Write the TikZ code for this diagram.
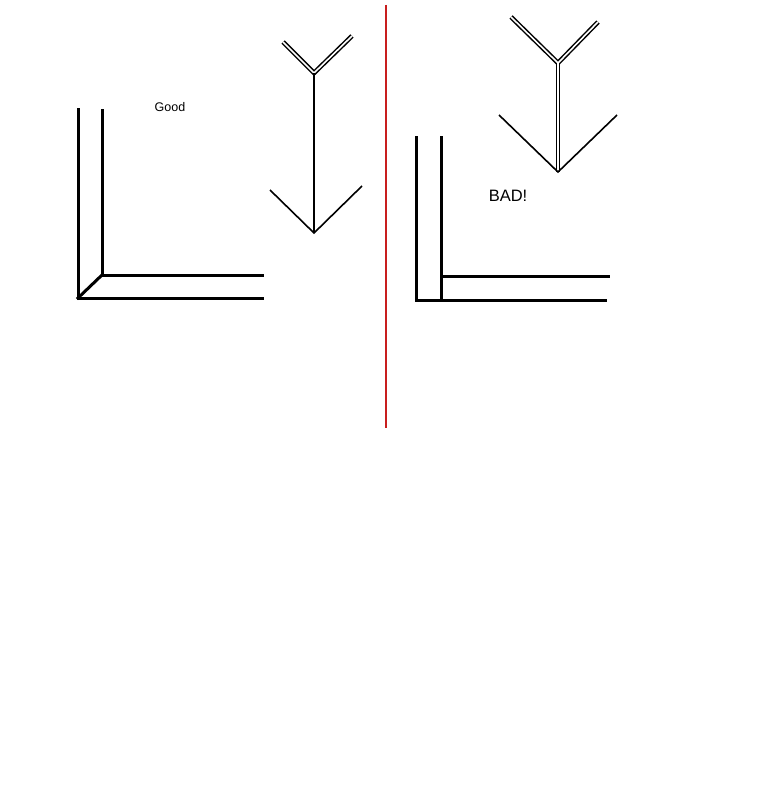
\documentclass[tikz,border=0pt]{standalone}
\usepackage{fontspec}
\setmainfont{Liberation Sans}
\begin{document}
\begin{tikzpicture}[x=1pt,y=-1pt,
  thick L/.style={line width=3pt, line cap=rect},
  single/.style={line width=1.6pt},
  dbl/.style={double, double distance=1.6pt, line width=1.5pt, line join=miter},
  divider/.style={line width=1.6pt, draw={rgb,255:red,200;green,30;blue,30}},
  lbl/.style={inner sep=0pt, font=\fontsize{12.5}{14}\selectfont}]
\useasboundingbox (0,0) rectangle (765,800);
\fill[white] (0,0) rectangle (765,800);

% ---- left "Good" side ----
\coordinate (gOT) at (78,109);
\coordinate (gOC) at (78,298);
\coordinate (gOR) at (262,298);
\coordinate (gIT) at (102,110);
\coordinate (gIC) at (102,275);
\coordinate (gIR) at (262,275);
\draw[thick L] (gOT) -- (gOC) -- (gOR);
\draw[thick L] (gIT) -- (gIC) -- (gIR);
\draw[thick L] (gOC) -- (gIC);

\coordinate (gVtop) at (314,73);
\coordinate (gVL) at (283,42);
\coordinate (gVR) at (352,36);
\coordinate (gTip) at (314,233);
\coordinate (gHL) at (270,190);
\coordinate (gHR) at (362,186);
\draw[dbl] (gVL) -- (gVtop) -- (gVR);
\draw[single] (gVtop) -- (gTip);
\draw[single] (gHL) -- (gTip) -- (gHR);

\node[lbl] (good) at (170,107) {Good};

% ---- divider ----
\coordinate (dTop) at (386,5);
\coordinate (dBot) at (386,428);
\draw[divider] (dTop) -- (dBot);

% ---- right "BAD!" side ----
\coordinate (bOT) at (416,137);
\coordinate (bOC) at (416,300);
\coordinate (bOR) at (605,300);
\coordinate (bIT) at (441,137);
\coordinate (bIC) at (441,300);
\coordinate (bIJ) at (441,276);
\coordinate (bIR) at (608,276);
\draw[thick L] (bOT) -- (bOC) -- (bOR);
\draw[thick L] (bIT) -- (bIC);
\draw[thick L] (bIJ) -- (bIR);

\coordinate (bVtop) at (558,63);
\coordinate (bVL) at (511,17);
\coordinate (bVR) at (598,22);
\coordinate (bTip) at (558,172);
\coordinate (bHL) at (499,115);
\coordinate (bHR) at (617,115);
\draw[dbl] (bVL) -- (bVtop) -- (bVR);
\draw[dbl] (bVtop) -- (bTip);
\draw[single] (bHL) -- (bTip) -- (bHR);

\node[lbl, font=\fontsize{16.5}{18}\selectfont] (bad) at (508,196) {BAD!};
\end{tikzpicture}
\end{document}
